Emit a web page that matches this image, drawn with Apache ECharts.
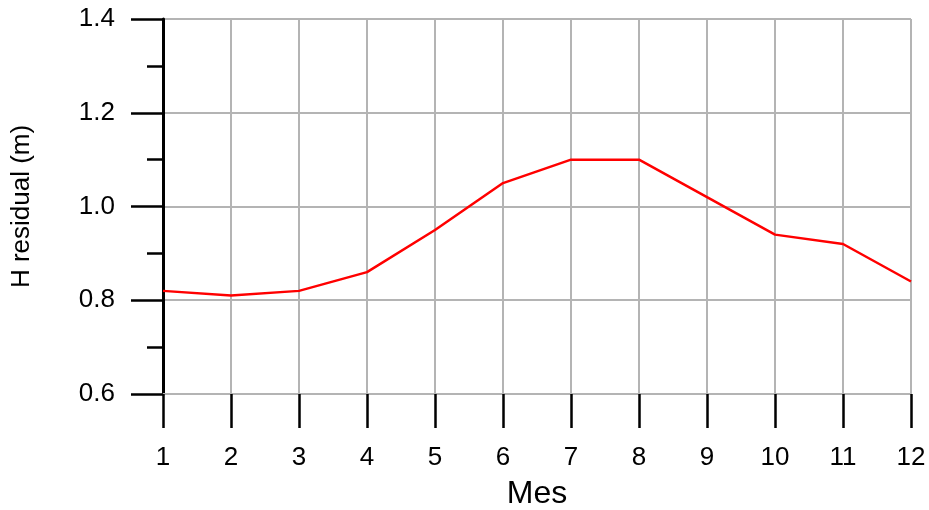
<!DOCTYPE html>
<html>
<head>
<meta charset="utf-8">
<script src="https://cdn.jsdelivr.net/npm/echarts@6/dist/echarts.min.js"></script>
<style>html,body{margin:0;padding:0;background:#fff}#c{width:929px;height:510px}</style>
</head>
<body>
<div id="c"></div>
<script>
var months = ['1','2','3','4','5','6','7','8','9','10','11','12'];
var hResidual = [0.82, 0.81, 0.82, 0.86, 0.95, 1.05, 1.10, 1.10, 1.02, 0.94, 0.92, 0.84];
var yTicks = [0.6, 0.8, 1.0, 1.2, 1.4];

var chart = echarts.init(document.getElementById('c'), null, {renderer: 'canvas'});
var font = 'Liberation Sans, Arial, sans-serif';
chart.setOption({
  animation: false,
  backgroundColor: '#fff',
  grid: {left: 163, right: 18, top: 19, bottom: 116, containLabel: false, outerBoundsMode: 'none'},
  xAxis: {
    type: 'category',
    data: months,
    boundaryGap: false,
    name: 'Mes',
    nameLocation: 'middle',
    nameGap: 84,
    nameTextStyle: {fontFamily: font, fontSize: 32, color: '#000'},
    axisLine: {show: true, lineStyle: {color: '#b4b4b4', width: 2}},
    axisTick: {show: true, alignWithLabel: true, length: 34, lineStyle: {color: '#000', width: 2.5}},
    axisLabel: {margin: 51, fontFamily: font, fontSize: 26, color: '#000'},
    splitLine: {show: true, lineStyle: {color: '#b4b4b4', width: 2}}
  },
  yAxis: {
    type: 'value',
    min: yTicks[0],
    max: yTicks[yTicks.length - 1],
    interval: 0.2,
    name: 'H residual (m)',
    nameLocation: 'middle',
    nameGap: 128,
    nameTextStyle: {fontFamily: font, fontSize: 26, color: '#000'},
    axisLine: {show: true, lineStyle: {color: '#000', width: 3}},
    axisTick: {show: true, length: 32, lineStyle: {color: '#000', width: 2.5}},
    minorTick: {show: true, splitNumber: 2, length: 16, lineStyle: {color: '#000', width: 2.5}},
    axisLabel: {margin: 48, fontFamily: font, fontSize: 26, color: '#000',
      formatter: function (v) { return v.toFixed(1); }},
    splitLine: {show: true, lineStyle: {color: '#b4b4b4', width: 2}}
  },
  series: [{
    type: 'line',
    data: hResidual,
    symbol: 'none',
    lineStyle: {color: '#ff0000', width: 2.5},
    itemStyle: {color: '#ff0000'}
  }]
});
</script>
</body>
</html>
